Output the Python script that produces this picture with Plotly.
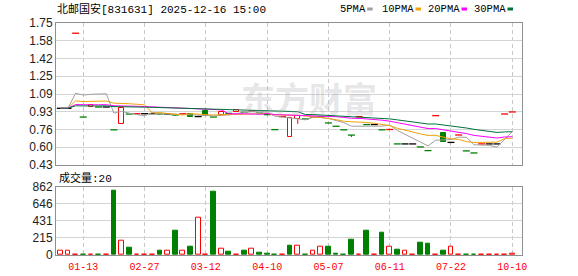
import plotly.graph_objects as go

# ---------------- data ----------------
prior_close = [0.957, 0.957, 0.957, 0.957, 0.957, 0.957, 0.957, 0.957, 0.957, 0.957,
               0.957, 0.957, 0.957, 0.957, 0.957, 0.957, 0.957, 0.957, 0.957, 0.957,
               0.957, 0.957, 0.957, 0.957, 0.957, 0.957, 0.957, 0.957, 0.957]

open_ = [0.957, 0.957, 1.655, 0.876, 0.966, 0.969, 0.969, 0.757, 0.812, 0.904,
         0.907, 0.907, 0.907, 0.904, 0.904, 0.895, 0.906, 0.904, 0.880, 0.936,
         0.876, 0.892, 0.910, 0.920, 0.920, 0.932, 0.913, 0.898, 0.759, 0.880,
         0.690, 0.855, 0.858, 0.876, 0.876, 0.821, 0.790, 0.757, 0.708, 0.880,
         0.806, 0.806, 0.757, 0.760, 0.626, 0.626, 0.626, 0.598, 0.564, 0.889,
         0.730, 0.640, 0.709, 0.561, 0.542, 0.626, 0.626, 0.626, 0.904, 0.923]
close = [0.957, 0.957, 1.655, 0.876, 0.990, 0.969, 0.969, 0.757, 0.960, 0.904,
         0.907, 0.907, 0.907, 0.904, 0.904, 0.895, 0.906, 0.880, 0.880, 0.890,
         0.876, 0.923, 0.910, 0.944, 0.920, 0.932, 0.913, 0.898, 0.759, 0.880,
         0.870, 0.882, 0.858, 0.876, 0.876, 0.821, 0.790, 0.757, 0.708, 0.880,
         0.806, 0.806, 0.757, 0.760, 0.626, 0.626, 0.626, 0.598, 0.564, 0.889,
         0.640, 0.640, 0.709, 0.561, 0.542, 0.626, 0.626, 0.626, 0.904, 0.923]
high = [0.957, 0.957, 1.655, 0.876, 0.990, 0.969, 0.969, 0.757, 0.960, 0.904,
        0.907, 0.907, 0.907, 0.904, 0.904, 0.895, 0.906, 0.904, 0.880, 0.936,
        0.876, 0.923, 0.910, 0.944, 0.920, 0.932, 0.913, 0.898, 0.759, 0.880,
        0.870, 0.882, 0.858, 0.876, 0.876, 0.821, 0.790, 0.757, 0.708, 0.880,
        0.806, 0.806, 0.757, 0.760, 0.626, 0.626, 0.626, 0.598, 0.564, 0.889,
        0.730, 0.640, 0.709, 0.561, 0.542, 0.626, 0.626, 0.626, 0.904, 0.923]
low = [0.957, 0.957, 1.655, 0.876, 0.966, 0.969, 0.969, 0.757, 0.812, 0.904,
       0.907, 0.907, 0.907, 0.904, 0.904, 0.886, 0.906, 0.880, 0.880, 0.890,
       0.876, 0.892, 0.910, 0.920, 0.920, 0.932, 0.913, 0.898, 0.759, 0.880,
       0.690, 0.812, 0.858, 0.876, 0.876, 0.821, 0.790, 0.757, 0.690, 0.880,
       0.806, 0.806, 0.757, 0.760, 0.626, 0.626, 0.626, 0.598, 0.564, 0.889,
       0.640, 0.640, 0.709, 0.561, 0.542, 0.626, 0.626, 0.626, 0.904, 0.923]
volume = [50, 50, 6, 8, 6, 8, 6, 810, 180, 92,
          6, 6, 6, 54, 50, 305, 60, 104, 465, 6,
          795, 75, 42, 6, 54, 75, 30, 12, 8, 6,
          117, 113, 8, 54, 100, 104, 12, 8, 192, 6,
          305, 6, 280, 100, 67, 54, 6, 155, 142, 6,
          54, 100, 6, 8, 8, 6, 6, 6, 6, 20]

tick_index = [3, 11, 19, 27, 35, 43, 51, 59]
tick_labels = ["01-13", "02-27", "03-12", "04-10", "05-07", "06-11", "07-22", "10-10"]
price_ticks = [0.43, 0.595, 0.76, 0.925, 1.09, 1.255, 1.42, 1.585, 1.75]
price_tick_labels = ["0.43", "0.60", "0.76", "0.93", "1.09", "1.25", "1.42", "1.58", "1.75"]
vol_ticks = [0, 215.5, 431, 646.5, 862]
vol_tick_labels = ["0", "215", "431", "646", "862"]
ma_periods = [5, 10, 20, 30]
ma_names = ["5PMA", "10PMA", "20PMA", "30PMA"]
ma_colors = ["#a0a0a0", "#f2a20c", "#ff00ff", "#00733b"]

title_text = "北邮国安[831631] 2025-12-16 15:00"
vol_title = "成交量:20"

RED = "#ff0000"
GREEN = "#008000"
BLACK = "#000000"

# ---------------- derived ----------------
n = len(close)
idx = list(range(n))
full = prior_close + close
P = len(prior_close)
prev_close = [full[P + i - 1] for i in idx]

mas = []
for per in ma_periods:
    vals = []
    for i in idx:
        w = full[P + i - per + 1: P + i + 1]
        vals.append(sum(w) / len(w))
    mas.append(vals)

fig = go.Figure()

# candle wicks
for col in (RED, GREEN, BLACK):
    wx, wy = [], []
    for i in idx:
        o, c = open_[i], close[i]
        if c > o:
            cc = RED
        elif c < o:
            cc = GREEN
        else:
            cc = RED if c > prev_close[i] else (GREEN if c < prev_close[i] else BLACK)
        if cc != col:
            continue
        top, bot = max(o, c), min(o, c)
        if high[i] > top:
            wx += [i, i, None]
            wy += [top, high[i], None]
        if low[i] < bot:
            wx += [i, i, None]
            wy += [bot, low[i], None]
    if wx:
        fig.add_trace(go.Scatter(x=wx, y=wy, mode="lines", line=dict(color=col, width=1),
                                 xaxis="x", yaxis="y", hoverinfo="skip", showlegend=False))

# candle bodies
up_x = [i for i in idx if close[i] > open_[i]]
dn_x = [i for i in idx if close[i] < open_[i]]
fig.add_trace(go.Bar(x=up_x, base=[open_[i] for i in up_x],
                     y=[close[i] - open_[i] for i in up_x], width=0.62,
                     marker=dict(color="white", line=dict(color=RED, width=1)),
                     xaxis="x", yaxis="y", showlegend=False))
fig.add_trace(go.Bar(x=dn_x, base=[close[i] for i in dn_x],
                     y=[open_[i] - close[i] for i in dn_x], width=0.62,
                     marker=dict(color=GREEN, line=dict(color=GREEN, width=1)),
                     xaxis="x", yaxis="y", showlegend=False))

# flat candles (dashes)
flat_x = [i for i in idx if close[i] == open_[i]]
flat_col = [RED if close[i] > prev_close[i] else (GREEN if close[i] < prev_close[i] else BLACK)
            for i in flat_x]
fig.add_trace(go.Scatter(x=flat_x, y=[close[i] for i in flat_x], mode="markers",
                         marker=dict(symbol="line-ew", size=5,
                                     line=dict(color=flat_col, width=1.3)),
                         xaxis="x", yaxis="y", showlegend=False, hoverinfo="skip"))

# moving averages
for vals, col, name in zip(mas, ma_colors, ma_names):
    fig.add_trace(go.Scatter(x=idx, y=vals, mode="lines", line=dict(color=col, width=1),
                             name=name, xaxis="x", yaxis="y", showlegend=False))

# volume bars
vu = [i for i in idx if close[i] >= prev_close[i]]
vd = [i for i in idx if close[i] < prev_close[i]]
fig.add_trace(go.Bar(x=vu, y=[volume[i] for i in vu], width=0.62,
                     marker=dict(color="white", line=dict(color=RED, width=1)),
                     xaxis="x2", yaxis="y2", showlegend=False))
fig.add_trace(go.Bar(x=vd, y=[volume[i] for i in vd], width=0.62,
                     marker=dict(color=GREEN, line=dict(color=GREEN, width=1)),
                     xaxis="x2", yaxis="y2", showlegend=False))

# ---------------- layout ----------------
L, R, T, B = 56, 56, 23, 21
W, H = 578, 276
pw, ph = W - L - R, H - T - B


def px(x):
    return (x - L) / pw


def py(y):
    return (H - B - y) / ph


grid = "#d4d4d4"
border = "#8f8f8f"
xr = [-0.56, 60.27]
xcommon = dict(range=xr, tickvals=tick_index, showgrid=True, gridcolor="#c8c8c8",
               griddash="4px,3px", gridwidth=1, zeroline=False, showline=True,
               linecolor=border, linewidth=1, mirror=True, ticks="", automargin=False)
ycommon = dict(showgrid=True, gridcolor=grid, gridwidth=1, zeroline=False, showline=True,
               linecolor=border, linewidth=1, mirror=True, ticks="", automargin=False,
               tickfont=dict(family="Liberation Sans, Arial", size=12, color="#222"))

fig.update_layout(
    width=W, height=H, margin=dict(l=L, r=R, t=T, b=B, pad=0, autoexpand=False),
    paper_bgcolor="white", plot_bgcolor="white", barmode="overlay", bargap=0,
    showlegend=False,
    xaxis=dict(domain=[0, 1], anchor="y", showticklabels=False, **xcommon),
    xaxis2=dict(domain=[0, 1], anchor="y2", matches="x", showticklabels=True,
                ticktext=tick_labels, ticklabelstandoff=2,
                tickfont=dict(family="Liberation Mono, monospace", size=10, color=RED),
                **xcommon),
    yaxis=dict(domain=[py(165), 1], anchor="x", range=[0.43, 1.75],
               tickvals=price_ticks, ticktext=price_tick_labels, **ycommon),
    yaxis2=dict(domain=[0, py(186.7)], anchor="x2", range=[0, 862],
                tickvals=vol_ticks, ticktext=vol_tick_labels, **ycommon),
)

mono_cjk = "Liberation Mono, Noto Sans CJK SC"
ann = [
    dict(text=title_text, x=px(55), y=py(8.5), xanchor="left", yanchor="middle",
         font=dict(family=mono_cjk, size=11, color="#000")),
    dict(text=vol_title, x=px(57), y=py(178), xanchor="left", yanchor="middle",
         font=dict(family=mono_cjk, size=11, color="#000")),
    dict(text="<b>东方财富</b>", x=px(309), y=py(97), xanchor="center", yanchor="middle",
         font=dict(family="Noto Sans CJK SC", size=34, color="rgba(170,170,178,0.30)"),
         ),
]
leg_left = [338, 380, 426, 472]
shapes = []
for name, col, lx in zip(ma_names, ma_colors, leg_left):
    ann.append(dict(text=name, x=px(lx), y=py(8.5), xanchor="left", yanchor="middle",
                    font=dict(family="Liberation Mono, monospace", size=10.5, color="#000")))
    sx = lx + len(name) * 6.3 + 4
    shapes.append(dict(type="rect", xref="paper", yref="paper",
                       x0=px(sx), x1=px(sx + 5.5), y0=py(10.5), y1=py(7.5),
                       fillcolor=col, line=dict(width=0)))
for a in ann:
    a.update(xref="paper", yref="paper", showarrow=False)
fig.update_layout(annotations=ann, shapes=shapes)

fig.write_html("out.html")
